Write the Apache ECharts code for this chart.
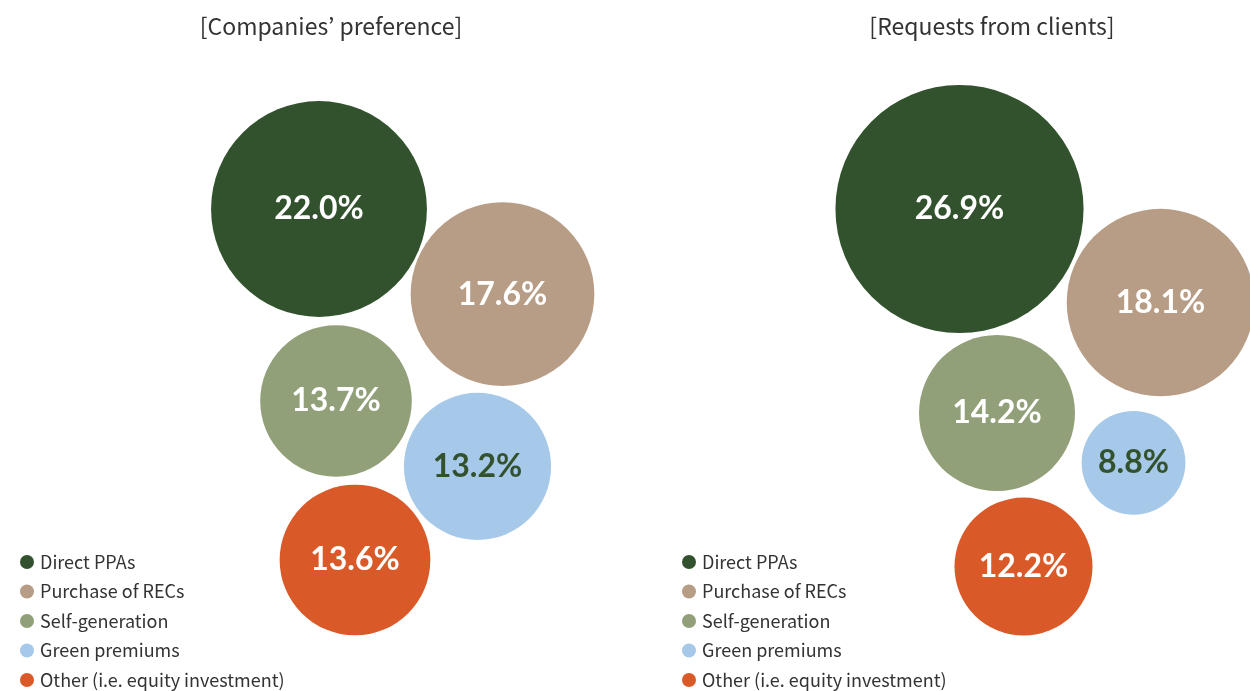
<!DOCTYPE html>
<html lang="en" style="height: 100%">
<head>
  <meta charset="utf-8">
</head>
<body style="height: 100%; margin: 0; background: #fff">
  <div id="container" style="width: 1250px; height: 691px"></div>

  <script type="text/javascript" src="https://cdn.jsdelivr.net/npm/echarts@6/dist/echarts.min.js"></script>

  <script type="text/javascript">
    var dom = document.getElementById('container');
    var myChart = echarts.init(dom, null, { renderer: 'canvas' });

    // categories and values (percent)
    const categories = ['Direct PPAs', 'Purchase of RECs', 'Self-generation', 'Green premiums', 'Other (i.e. equity investment)'];
    const companiesValues = [22.0, 17.6, 13.7, 13.2, 13.6];
    const clientsValues = [26.9, 18.1, 14.2, 8.8, 12.2];

    // bubble layout, in the 0-100 units of each panel's hidden axes
    const companiesLayout = [[33.8, 78.5], [70.5, 64.3], [37.2, 46.5], [65.5, 35.6], [41.0, 20.0]];
    const clientsLayout = [[41.9, 78.5], [82.1, 62.9], [49.4, 44.5], [76.7, 36.2], [54.7, 18.9]];

    const colors = ['#32522d', '#b79d86', '#91a078', '#a7c9e9', '#d95a28'];
    const labelColors = ['#fff', '#fff', '#fff', '#32522d', '#fff'];
    const font = '"Noto Sans CJK KR", "Noto Sans", sans-serif';

    // diameter grows with the square root of the share
    function bubbleSize(val) {
      return 65 * Math.sqrt(val[2]) - 89;
    }

    function makeSeries(values, layout, axisIndex) {
      return categories.map(function (name, i) {
        return {
          name: name,
          type: 'scatter',
          xAxisIndex: axisIndex,
          yAxisIndex: axisIndex,
          clip: false,
          symbol: 'circle',
          symbolSize: bubbleSize,
          itemStyle: { color: colors[i], opacity: 1 },
          label: {
            show: true,
            position: 'inside',
            color: labelColors[i],
            fontFamily: 'Lato, "Noto Sans", sans-serif',
            fontWeight: 'bold',
            fontSize: 32,
            formatter: function (p) {
              return p.value[2].toFixed(1) + '%';
            }
          },
          emphasis: { scale: false },
          data: [[layout[i][0], layout[i][1], values[i]]]
        };
      });
    }

    function hiddenAxis(gridIndex) {
      return { type: 'value', gridIndex: gridIndex, min: 0, max: 100, show: false };
    }

    function legendAt(left) {
      return {
        orient: 'vertical',
        left: left,
        top: 552,
        padding: 0,
        icon: 'circle',
        itemWidth: 14,
        itemHeight: 14,
        itemGap: 9.5,
        data: categories,
        textStyle: {
          fontFamily: font,
          fontSize: 18,
          lineHeight: 20,
          color: '#333',
          padding: [0, 0, 0, 1]
        }
      };
    }

    var option = {
      animation: false,
      color: colors,
      title: [
        {
          text: '[Companies\u2019 preference]',
          left: 331,
          top: 15,
          padding: 0,
          textAlign: 'center',
          textStyle: { fontFamily: font, fontSize: 23, fontWeight: 'normal', color: '#333' }
        },
        {
          text: '[Requests from clients]',
          left: 992,
          top: 15,
          padding: 0,
          textAlign: 'center',
          textStyle: { fontFamily: font, fontSize: 23, fontWeight: 'normal', color: '#333' }
        }
      ],
      legend: [legendAt(20), legendAt(682)],
      grid: [
        { left: 150, top: 80, width: 500, height: 600 },
        { left: 750, top: 80, width: 500, height: 600 }
      ],
      xAxis: [hiddenAxis(0), hiddenAxis(1)],
      yAxis: [hiddenAxis(0), hiddenAxis(1)],
      series: makeSeries(companiesValues, companiesLayout, 0)
        .concat(makeSeries(clientsValues, clientsLayout, 1))
    };

    myChart.setOption(option);
    window.addEventListener('resize', myChart.resize);
  </script>
</body>
</html>
